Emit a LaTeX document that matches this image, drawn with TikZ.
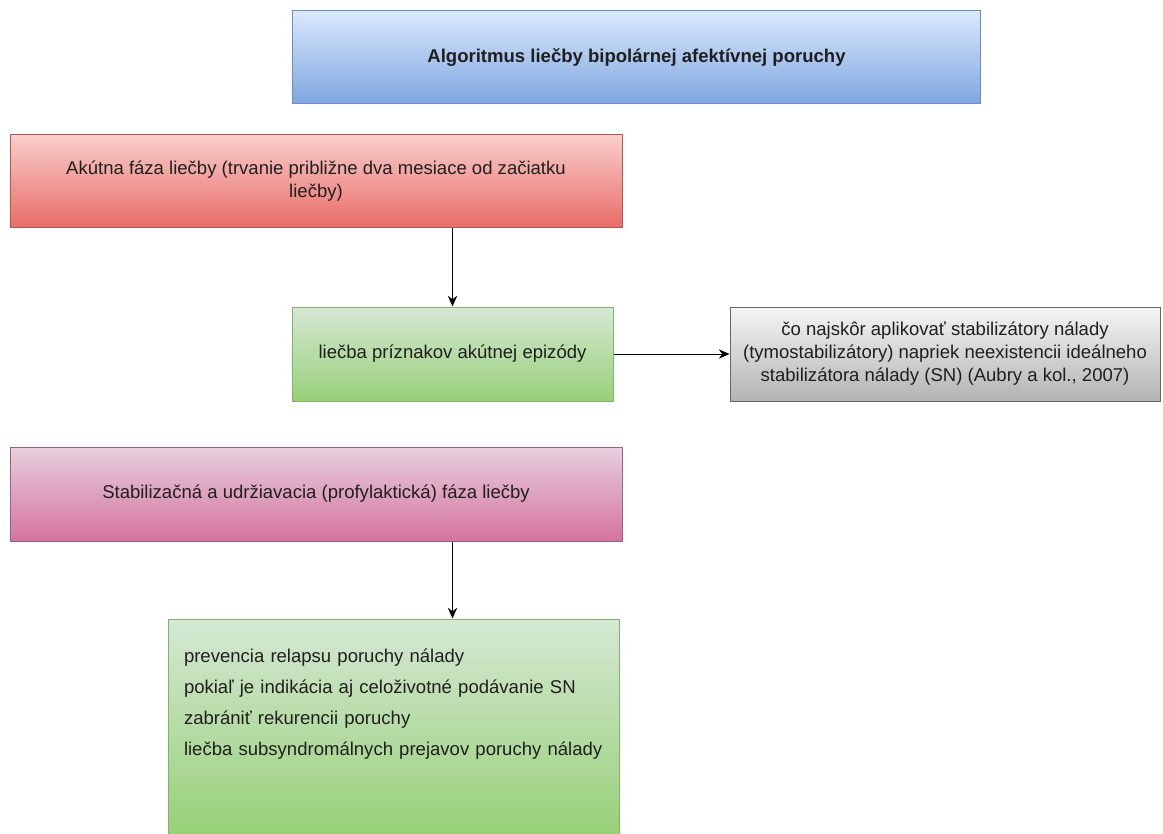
\documentclass[tikz,border=0pt]{standalone}
\usepackage{fontspec}
\setmainfont{Liberation Sans}
\usetikzlibrary{arrows.meta, positioning}

\definecolor{bluetop}{HTML}{DAE8FC}
\definecolor{bluebot}{HTML}{7EA6E0}
\definecolor{blueline}{HTML}{6C8EBF}
\definecolor{redtop}{HTML}{F8CECC}
\definecolor{redbot}{HTML}{EA6B66}
\definecolor{redline}{HTML}{B85450}
\definecolor{greentop}{HTML}{D5E8D4}
\definecolor{greenbot}{HTML}{97D077}
\definecolor{greenline}{HTML}{82B366}
\definecolor{graytop}{HTML}{F5F5F5}
\definecolor{graybot}{HTML}{B3B3B3}
\definecolor{grayline}{HTML}{666666}
\definecolor{pinktop}{HTML}{E6D0DE}
\definecolor{pinkbot}{HTML}{D5739D}
\definecolor{pinkline}{HTML}{996185}
\definecolor{textgray}{HTML}{1F1F1F}

\begin{document}
\begin{tikzpicture}[
  x=0.75pt, y=-0.75pt,
  block/.style = {draw, line width=0.75pt, inner sep=0pt, align=center, text=textgray,
                  font=\fontsize{13.9}{17.25}\selectfont},
  blue/.style  = {block, draw=blueline, top color=bluetop, bottom color=bluebot},
  red/.style   = {block, draw=redline, top color=redtop, bottom color=redbot},
  green/.style = {block, draw=greenline, top color=greentop, bottom color=greenbot},
  grey/.style  = {block, draw=grayline, top color=graytop, bottom color=graybot},
  pink/.style  = {block, draw=pinkline, top color=pinktop, bottom color=pinkbot},
  arrow/.style = {-{Stealth[length=8pt, width=7pt]}, line width=0.75pt}
  ]

  \useasboundingbox (0,0) rectangle (1163,834);

    % Title
  \node[blue, minimum width=516pt, minimum height=69.75pt] (title) at (636.5,57.5)
    {\bfseries Algoritmus liečby bipolárnej afektívnej poruchy};

    % Acute phase
  \node[red, minimum width=459pt, minimum height=69.75pt] (acute) at (316,181.5)
    {Akútna fáza liečby (trvanie približne dva mesiace od začiatku\\ liečby)};

  \node[green, minimum width=240.75pt, minimum height=70.5pt] (symptoms) at (452.5,354)
    {liečba príznakov akútnej epizódy};

  \node[grey, minimum width=322.5pt, minimum height=70.5pt] (mood) at (945,354)
    {čo najskôr aplikovať stabilizátory nálady\\
     (tymostabilizátory) napriek neexistencii ideálneho\\
     stabilizátora nálady (SN) (Aubry a kol., 2007)};

    % Stabilisation phase
  \node[pink, minimum width=459pt, minimum height=70.5pt] (stab) at (316,494)
    {Stabilizačná a udržiavacia (profylaktická) fáza liečby};

  \node[green, minimum width=338.25pt, minimum height=162.75pt, align=left,
        inner xsep=12pt, text width=314.25pt, text depth=107pt,
        font=\fontsize{13.9}{23.25}\selectfont] (prev) at (393.5,727.5)
    {prevencia relapsu poruchy nálady\\
     pokiaľ je indikácia aj celoživotné podávanie SN\\
     zabrániť rekurencii poruchy\\
     liečba subsyndromálnych prejavov poruchy nálady};

  \draw[arrow] (acute.south -| symptoms.north) -- (symptoms.north);
  \draw[arrow] (symptoms) -- (mood);
  \draw[arrow] (stab.south -| symptoms) -- (prev.north -| symptoms);

\end{tikzpicture}
\end{document}
